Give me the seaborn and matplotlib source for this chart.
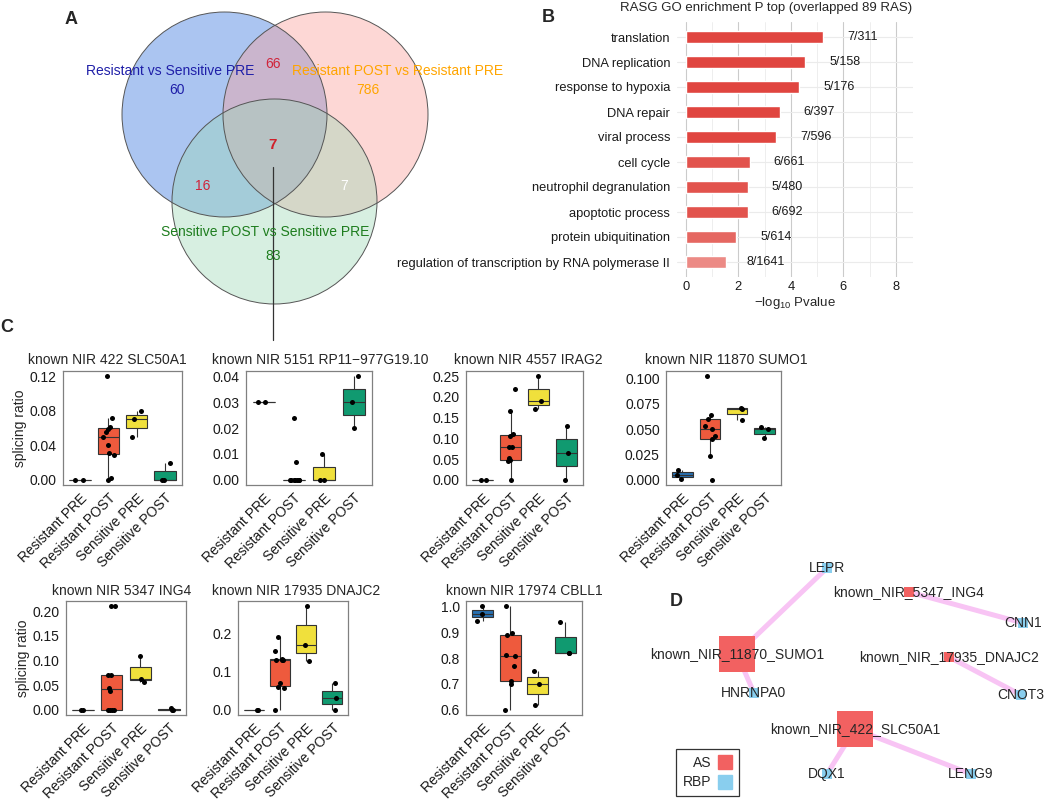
import matplotlib
matplotlib.use("Agg")
import matplotlib.pyplot as plt
from matplotlib.patches import Circle
from matplotlib.lines import Line2D
from matplotlib.ticker import MultipleLocator, FormatStrFormatter
import seaborn as sns
import numpy as np
import pandas as pd

# ---------------- data ----------------
# A: venn counts
venn_names = ["Resistant vs Sensitive PRE", "Resistant POST vs Resistant PRE",
              "Sensitive POST vs Sensitive PRE"]
venn_only = [60, 786, 83]
venn_pairs = [66, 16, 7]   # 1&2, 1&3, 2&3
venn_all = 7

# B: GO enrichment
go_terms = ["translation", "DNA replication", "response to hypoxia", "DNA repair",
            "viral process", "cell cycle", "neutrophil degranulation",
            "apoptotic process", "protein ubiquitination",
            "regulation of transcription by RNA polymerase II"]
go_logp = [5.24, 4.55, 4.32, 3.59, 3.45, 2.45, 2.35, 2.35, 1.92, 1.54]
go_hits = ["7/311", "5/158", "5/176", "6/397", "7/596", "6/661", "5/480",
           "6/692", "5/614", "8/1641"]

# C: splicing ratios per group
groups = ["Resistant PRE", "Resistant POST", "Sensitive PRE", "Sensitive POST"]
box_titles = ["known NIR 422 SLC50A1", "known NIR 5151 RP11\u2212977G19.10",
              "known NIR 4557 IRAG2", "known NIR 11870 SUMO1",
              "known NIR 5347 ING4", "known NIR 17935 DNAJC2", "known NIR 17974 CBLL1"]
slc50a1 = [[0.0, 0.0],
           [0.0, 0.002, 0.029, 0.031, 0.04, 0.05, 0.055, 0.059, 0.061, 0.072, 0.12],
           [0.05, 0.07, 0.08], [0.0, 0.0, 0.02]]
rp11 = [[0.03, 0.03],
        [0.0, 0.0, 0.0, 0.0, 0.0, 0.0, 0.0, 0.007, 0.024],
        [0.0, 0.0, 0.01], [0.02, 0.03, 0.04]]
irag2 = [[0.0, 0.0],
         [0.0, 0.045, 0.048, 0.052, 0.078, 0.08, 0.105, 0.11, 0.167, 0.219],
         [0.17, 0.19, 0.25], [0.0, 0.065, 0.13]]
sumo1 = [[0.001, 0.005, 0.0095],
         [0.0, 0.023, 0.04, 0.043, 0.05, 0.053, 0.06, 0.064, 0.102],
         [0.059, 0.07, 0.071], [0.041, 0.05, 0.052]]
ing4 = [[0.0, 0.0],
        [0.0, 0.0, 0.0, 0.0, 0.038, 0.045, 0.07, 0.07, 0.21, 0.21],
        [0.057, 0.063, 0.11], [0.0, 0.0, 0.003]]
dnajc2 = [[0.0, 0.0],
          [0.0, 0.057, 0.06, 0.069, 0.13, 0.13, 0.13, 0.133, 0.154, 0.19],
          [0.126, 0.17, 0.27], [0.0, 0.03, 0.07]]
cbll1 = [[0.943, 0.97, 1.0],
         [0.6, 0.7, 0.71, 0.77, 0.808, 0.81, 0.89, 0.895, 1.0],
         [0.62, 0.7, 0.75], [0.82, 0.82, 0.94]]
box_data = [slc50a1, rp11, irag2, sumo1, ing4, dnajc2, cbll1]

# D: AS - RBP network
as_nodes = ["known_NIR_11870_SUMO1", "known_NIR_422_SLC50A1",
            "known_NIR_5347_ING4", "known_NIR_17935_DNAJC2"]
rbp_nodes = ["LEPR", "HNRNPA0", "DQX1", "LENG9", "CNN1", "CNOT3"]
edges = [("known_NIR_11870_SUMO1", "LEPR"), ("known_NIR_11870_SUMO1", "HNRNPA0"),
         ("known_NIR_422_SLC50A1", "DQX1"), ("known_NIR_422_SLC50A1", "LENG9"),
         ("known_NIR_5347_ING4", "CNN1"), ("known_NIR_17935_DNAJC2", "CNOT3")]

# ---------------- style ----------------
sns.set_style("white")
plt.rcParams["font.family"] = ["Liberation Sans", "DejaVu Sans"]
plt.rcParams["mathtext.default"] = "regular"

W, H = 1045, 801
fig = plt.figure(figsize=(W / 100, H / 100), dpi=100)


def px_axes(x0, y0, x1, y1):
    # axes placed by pixel box (top-left origin)
    return fig.add_axes([x0 / W, 1 - y1 / H, (x1 - x0) / W, (y1 - y0) / H])


# ---------------- A: venn ----------------
axA = px_axes(0, 0, 480, 345)
axA.set_xlim(0, 480)
axA.set_ylim(345, 0)
axA.axis("off")
centers = [(224.5, 114.5), (325.5, 114.5), (274.5, 201.5)]
fills = ["#2D70DE", "#FA9D98", "#9BD7B6"]
for (cx, cy), fc in zip(centers, fills):
    axA.add_patch(Circle((cx, cy), 102.5, facecolor=fc, alpha=0.4, edgecolor="none"))
for cx, cy in centers:
    axA.add_patch(Circle((cx, cy), 102.5, facecolor="none", edgecolor="#555555", lw=0.7))

name_cols = ["#1F1FA8", "#FFA500", "#1E7D1E"]
name_pos = [(170, 71), (398, 71), (265, 232)]
num_pos = [(177, 90), (368, 90), (273, 256)]
for nm, n, c, p, q in zip(venn_names, venn_only, name_cols, name_pos, num_pos):
    axA.text(p[0], p[1], nm, color=c, fontsize=10, ha="center", va="center")
    axA.text(q[0], q[1], str(n), color=c, fontsize=10, ha="center", va="center")
pair_pos = [(273, 64), (203, 186), (344, 186)]
pair_cols = ["#D0243A", "#D0243A", "white"]
for n, p, c in zip(venn_pairs, pair_pos, pair_cols):
    axA.text(p[0], p[1], str(n), color=c, fontsize=10, ha="center", va="center")
axA.text(273, 145, str(venn_all), color="#D0202A", fontsize=11, fontweight="bold",
         ha="center", va="center")
axA.plot([273.3, 273.3], [167, 340], color="#333333", lw=0.9)

# ---------------- B: GO bars ----------------
bar_colors = ["#E0453F"] * 5 + ["#E2534D"] * 3 + ["#E56761", "#EC8A85"]
axB = px_axes(677, 22, 913, 277)
sns.barplot(x=go_logp, y=go_terms, hue=go_terms, palette=bar_colors, width=0.5,
            orient="h", saturation=1, legend=False, ax=axB)
axB.set_xlim(-0.34, 8.65)
axB.set_ylim(9.6, -0.6)
axB.set_xticks([0, 2, 4, 6, 8])
axB.set_xticks([1, 3, 5, 7], minor=True)
axB.grid(which="major", axis="x", color="#CBCBCB", lw=0.8)
axB.grid(which="minor", axis="x", color="#EBEBEB", lw=0.6)
axB.grid(which="major", axis="y", color="#EBEBEB", lw=0.8)
axB.set_axisbelow(True)
for s in axB.spines.values():
    s.set_visible(False)
axB.tick_params(which="both", length=0, labelsize=9.3, labelcolor="#1a1a1a")
axB.tick_params(axis="y", pad=5)
axB.tick_params(axis="x", pad=3)
for i, (v, t) in enumerate(zip(go_logp, go_hits)):
    axB.text(v + 1.5, i, t, ha="center", va="center", fontsize=9, color="#1a1a1a")
axB.set_ylabel("")
axB.set_xlabel("\u2212log$_{10}$ Pvalue", fontsize=9.5, labelpad=1)
fig.text(766 / W, 1 - 8 / H, "RASG GO enrichment P top (overlapped 89 RAS)",
         ha="center", va="center", fontsize=9.5)

# ---------------- C: boxplots ----------------
group_colors = ["#2870B0", "#EE5A3D", "#F0E03C", "#109A70"]
c_boxes = [(63, 371, 182, 485), (246, 371, 372, 485), (466, 371, 583, 485),
           (666, 371, 781, 485), (66, 601, 186, 715), (238, 601, 348, 715),
           (466, 601, 582, 715)]
title_xy = [(107, 360), (320, 360), (528, 360), (726, 360),
            (122, 591), (296, 591), (524, 591)]
tick_steps = [0.04, 0.01, 0.05, 0.025, 0.05, 0.1, 0.1]
tick_fmt = ["%.2f", "%.2f", "%.2f", "%.3f", "%.2f", "%.1f", "%.1f"]
np.random.seed(7)
for k, (title, vals) in enumerate(zip(box_titles, box_data)):
    ax = px_axes(*c_boxes[k])
    df = pd.DataFrame({"group": np.repeat(groups, [len(v) for v in vals]),
                       "value": np.concatenate(vals)})
    sns.boxplot(data=df, x="group", y="value", hue="group", order=groups,
                hue_order=groups, palette=group_colors, width=0.75, linewidth=0.8,
                linecolor="#333333", showfliers=False, showcaps=False,
                saturation=1, legend=False, ax=ax)
    sns.stripplot(data=df, x="group", y="value", order=groups, color="black",
                  size=3.6, jitter=0.2, ax=ax)
    lo, hi = df["value"].min(), df["value"].max()
    pad = (hi - lo) * 0.05
    ax.set_ylim(lo - pad, hi + pad)
    ax.set_xlim(-0.6, 3.6)
    ax.yaxis.set_major_locator(MultipleLocator(tick_steps[k]))
    ax.yaxis.set_major_formatter(FormatStrFormatter(tick_fmt[k]))
    ax.set_xticks(range(4))
    ax.set_xticklabels(groups, rotation=45, ha="right", va="top",
                       rotation_mode="anchor")
    ax.tick_params(length=3, width=0.8, color="#333333", labelsize=10,
                   labelcolor="#1a1a1a", pad=1.5)
    for s in ax.spines.values():
        s.set_color("#808080")
        s.set_linewidth(0.9)
    ax.set_xlabel("")
    ax.set_ylabel("splicing ratio" if k in (0, 4) else "", fontsize=10, labelpad=2)
    tx, ty = title_xy[k]
    fig.text(tx / W, 1 - ty / H, title, fontsize=10, ha="center", va="center")

# ---------------- D: network ----------------
axD = px_axes(600, 550, 1045, 801)
axD.set_xlim(600, 1045)
axD.set_ylim(801, 550)
axD.axis("off")
net_layout = {"LEPR": (827, 568), "known_NIR_5347_ING4": (909, 592),
              "CNN1": (1023, 623), "known_NIR_11870_SUMO1": (737, 654),
              "HNRNPA0": (754, 693), "known_NIR_17935_DNAJC2": (949, 657),
              "CNOT3": (1021, 695), "known_NIR_422_SLC50A1": (855, 729),
              "DQX1": (827, 774), "LENG9": (971, 774)}
for a, b in edges:
    (x0, y0), (x1, y1) = net_layout[a], net_layout[b]
    axD.plot([x0, x1], [y0, y1], color="#F8C4F4", lw=3.6, solid_capstyle="butt",
             zorder=1)
degree = {n: sum(n in e for e in edges) for n in as_nodes + rbp_nodes}
nodes = pd.DataFrame({
    "name": as_nodes + rbp_nodes,
    "kind": ["AS"] * len(as_nodes) + ["RBP"] * len(rbp_nodes),
})
nodes["x"] = [net_layout[n][0] for n in nodes["name"]]
nodes["y"] = [net_layout[n][1] for n in nodes["name"]]
nodes["scale"] = [("hub" if degree[n] > 1 else "leaf") if kd == "AS" else "rbp"
                  for n, kd in zip(nodes["name"], nodes["kind"])]
node_pal = {"AS": "#F26161", "RBP": "#89CEEE"}
sns.scatterplot(data=nodes, x="x", y="y", hue="kind", palette=node_pal,
                size="scale", sizes={"hub": 640, "leaf": 55, "rbp": 45},
                marker="s", linewidth=0, legend=False, ax=axD, zorder=2)
for n, x, y in zip(nodes["name"], nodes["x"], nodes["y"]):
    axD.text(x, y, n, ha="center", va="center", fontsize=10, zorder=3)
axD.set_xlabel("")
axD.set_ylabel("")
handles = [Line2D([], [], marker="s", ls="", color=node_pal[k], markersize=9.5)
           for k in ["AS", "RBP"]]
leg = axD.legend(handles, ["AS", "RBP"], markerfirst=False, loc="upper left",
                 bbox_to_anchor=(676, 749), bbox_transform=axD.transData,
                 frameon=True, fancybox=False, fontsize=10, handletextpad=0.5,
                 borderpad=0.5, labelspacing=0.4, handlelength=1.0,
                 borderaxespad=0)
leg.get_frame().set_edgecolor("black")
leg.get_frame().set_linewidth(0.9)

# ---------------- panel letters ----------------
for lab, (x, y) in zip("ABCD", [(71, 19), (548, 18), (7, 327), (676, 602)]):
    fig.text(x / W, 1 - y / H, lab, fontsize=13, fontweight="bold",
             ha="center", va="center")

fig.savefig("out.png", dpi=100)
